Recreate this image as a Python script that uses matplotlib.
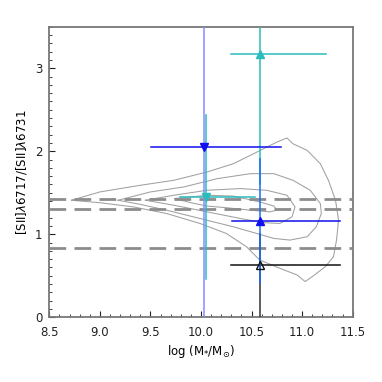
import numpy as np
import matplotlib
matplotlib.use('Agg')
import matplotlib.pyplot as plt
from matplotlib.ticker import MultipleLocator

# points with error ranges
mass      = [10.58, 10.05, 10.58, 10.03, 10.58]
ratio     = [3.17, 1.45, 0.63, 2.05, 1.16]
mass_lo   = [10.30, 9.79, 10.30, 9.51, 10.31]
mass_hi   = [11.24, 10.53, 11.37, 10.79, 11.37]
ratio_lo  = [1.60, 0.46, 0.0, 0.01, 0.415]
ratio_hi  = [3.60, 2.44, 1.00, 3.60, 1.91]
markers   = ['^', 'v', '^', 'v', '^']
filled    = [True, True, False, True, True]
hcolors   = ['#2bbcbc', '#2bbcbc', '#111111', '#1010f0', '#1010f0']
vcolors   = ['#2bbcbc', '#2bbcbc', '#333333', '#8a8aff', '#1a6cf5']

# horizontal reference lines
hlines = [1.42, 1.31, 0.84]

# density contours (outer -> inner)
c1_x = [8.72, 9.00, 9.40, 9.73, 10.06, 10.32, 10.52, 10.65, 10.75, 10.85, 10.91, 11.05, 11.18, 11.26,
        11.33, 11.36, 11.34, 11.31, 11.23, 11.10, 11.03, 10.95, 10.78, 10.62, 10.58, 10.45, 10.25,
        9.99, 9.66, 9.33, 9.00, 8.72]
c1_y = [1.41, 1.51, 1.59, 1.65, 1.75, 1.85, 1.97, 2.05, 2.11, 2.16, 2.09, 2.01, 1.85, 1.65,
        1.41, 1.17, 0.93, 0.73, 0.61, 0.49, 0.43, 0.51, 0.59, 0.67, 0.69, 0.85, 1.01,
        1.13, 1.25, 1.33, 1.38, 1.41]
c2_x = [9.18, 9.50, 9.83, 10.16, 10.49, 10.72, 10.91, 11.08, 11.18, 11.19, 11.14, 11.05, 10.88,
        10.72, 10.55, 10.32, 9.99, 9.66, 9.40, 9.18]
c2_y = [1.41, 1.51, 1.57, 1.67, 1.73, 1.73, 1.65, 1.53, 1.37, 1.25, 1.09, 0.97, 0.93,
        0.95, 1.01, 1.09, 1.19, 1.29, 1.36, 1.41]
c3_x = [9.45, 9.73, 10.06, 10.39, 10.65, 10.85, 10.93, 10.90, 10.78, 10.62, 10.39, 10.06, 9.73, 9.45]
c3_y = [1.41, 1.47, 1.53, 1.55, 1.53, 1.47, 1.33, 1.21, 1.13, 1.14, 1.19, 1.27, 1.35, 1.41]
c4_x = [9.74, 10.06, 10.32, 10.58, 10.72, 10.75, 10.68, 10.49, 10.25, 10.06, 9.90, 9.74]
c4_y = [1.43, 1.47, 1.46, 1.39, 1.34, 1.29, 1.27, 1.29, 1.32, 1.34, 1.38, 1.43]

fig = plt.figure(figsize=(3.82, 3.82), dpi=100)
ax = fig.add_axes([49.3/382, 1 - 317.3/382, 303.4/382, 290.6/382])

for cx, cy in [(c1_x, c1_y), (c2_x, c2_y), (c3_x, c3_y), (c4_x, c4_y)]:
    ax.plot(cx, cy, color='#a0a0a0', lw=0.75, zorder=2)

for h in hlines:
    ax.axhline(h, color='#8c8c8c', lw=2.0, ls=(0, (6, 3)), zorder=3)

for i in range(len(mass)):
    x, y = mass[i], ratio[i]
    ax.plot([x, x], [ratio_lo[i], ratio_hi[i]], color=vcolors[i], lw=1.1, zorder=4)
    ax.plot([mass_lo[i], mass_hi[i]], [y, y], color=hcolors[i], lw=1.1, zorder=4)
    if filled[i]:
        ax.plot(x, y, marker=markers[i], color=hcolors[i], ms=5.5, ls='none', zorder=5)
    else:
        ax.plot(x, y, marker=markers[i], mfc='none', mec=hcolors[i], mew=1.0, ms=5.5, ls='none', zorder=5)

ax.set_xlim(8.5, 11.5)
ax.set_ylim(0, 3.5)
ax.set_xticks([8.5, 9.0, 9.5, 10.0, 10.5, 11.0, 11.5])
ax.set_xticklabels(['8.5', '9.0', '9.5', '10.0', '10.5', '11.0', '11.5'])
ax.set_yticks([0, 1, 2, 3])
ax.xaxis.set_minor_locator(MultipleLocator(0.1))
ax.yaxis.set_minor_locator(MultipleLocator(0.1))
ax.tick_params(which='both', direction='in', top=False, right=False, labelsize=8.5, colors='#222222')
ax.tick_params(which='major', length=4, width=0.8)
ax.tick_params(which='minor', length=2, width=0.6)
ax.tick_params(axis='x', pad=6)
ax.tick_params(axis='y', pad=5)
for s in ax.spines.values():
    s.set_color('#777777')
    s.set_linewidth(1.3)

ax.set_xlabel(r'log (M$_{*}$/M$_{\odot}$)', fontsize=8.5, labelpad=3)
ax.set_ylabel(r'[SII]$\lambda$6717/[SII]$\lambda$6731', fontsize=8.5)

fig.savefig('out.png', dpi=100)
